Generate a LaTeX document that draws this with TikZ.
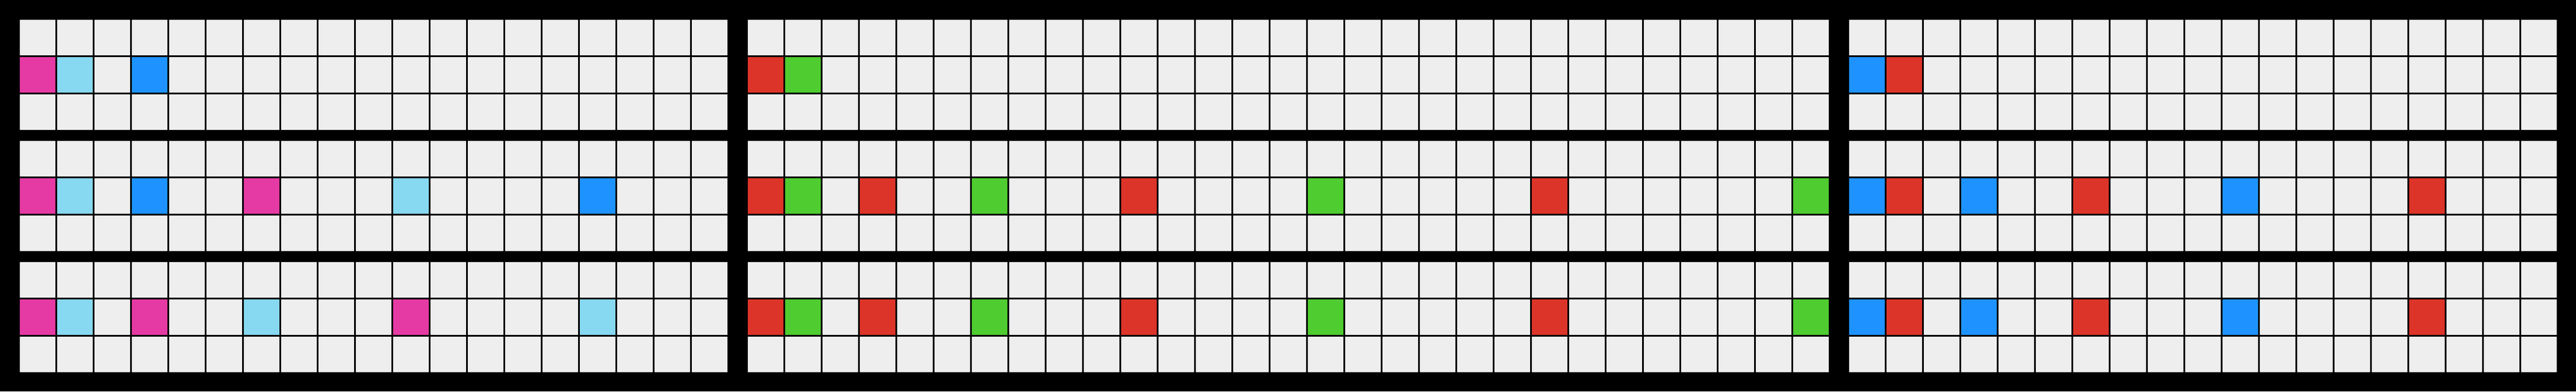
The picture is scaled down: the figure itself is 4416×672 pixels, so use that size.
\documentclass[tikz,border=0pt]{standalone}
\definecolor{arcgrey}{HTML}{EEEEEE}
\definecolor{arcmagenta}{HTML}{E53AA3}
\definecolor{arclightblue}{HTML}{87D8F1}
\definecolor{arcblue}{HTML}{1E93FF}
\definecolor{arcred}{HTML}{DD3429}
\definecolor{arcgreen}{HTML}{4FCC30}
% one panel: left, top, number of columns, coloured cells of the middle row
\newcommand{\arcpanel}[4]{%
  \foreach \r in {0,1,2}
    \foreach \c in {1,...,#3}
      \fill[cell] ({#1+64*(\c-1)},{#2+64*\r}) rectangle ++(61,61);
  \foreach \c/\col in {#4}
    \fill[\col] ({#1+64*\c},{#2+64}) rectangle ++(61,61);
}
\begin{document}
\begin{tikzpicture}[
		  x=0.1mm, y=-0.1mm,
		  cell/.style={fill=arcgrey}
		]
		\fill[black] (0,0) rectangle (4416,672);
		
		% first pair
		\arcpanel{34}{34}{19}{0/arcmagenta,1/arclightblue,3/arcblue}
		\arcpanel{1282}{34}{29}{0/arcred,1/arcgreen}
		\arcpanel{3170}{34}{19}{0/arcblue,1/arcred}
		
		% second pair
		\arcpanel{34}{242}{19}{0/arcmagenta,1/arclightblue,3/arcblue,6/arcmagenta,10/arclightblue,15/arcblue}
		\arcpanel{1282}{242}{29}{0/arcred,1/arcgreen,3/arcred,6/arcgreen,10/arcred,15/arcgreen,21/arcred,28/arcgreen}
		\arcpanel{3170}{242}{19}{0/arcblue,1/arcred,3/arcblue,6/arcred,10/arcblue,15/arcred}
		
		% third pair
		\arcpanel{34}{450}{19}{0/arcmagenta,1/arclightblue,3/arcmagenta,6/arclightblue,10/arcmagenta,15/arclightblue}
		\arcpanel{1282}{450}{29}{0/arcred,1/arcgreen,3/arcred,6/arcgreen,10/arcred,15/arcgreen,21/arcred,28/arcgreen}
		\arcpanel{3170}{450}{19}{0/arcblue,1/arcred,3/arcblue,6/arcred,10/arcblue,15/arcred}
		\end{tikzpicture}
\end{document}
